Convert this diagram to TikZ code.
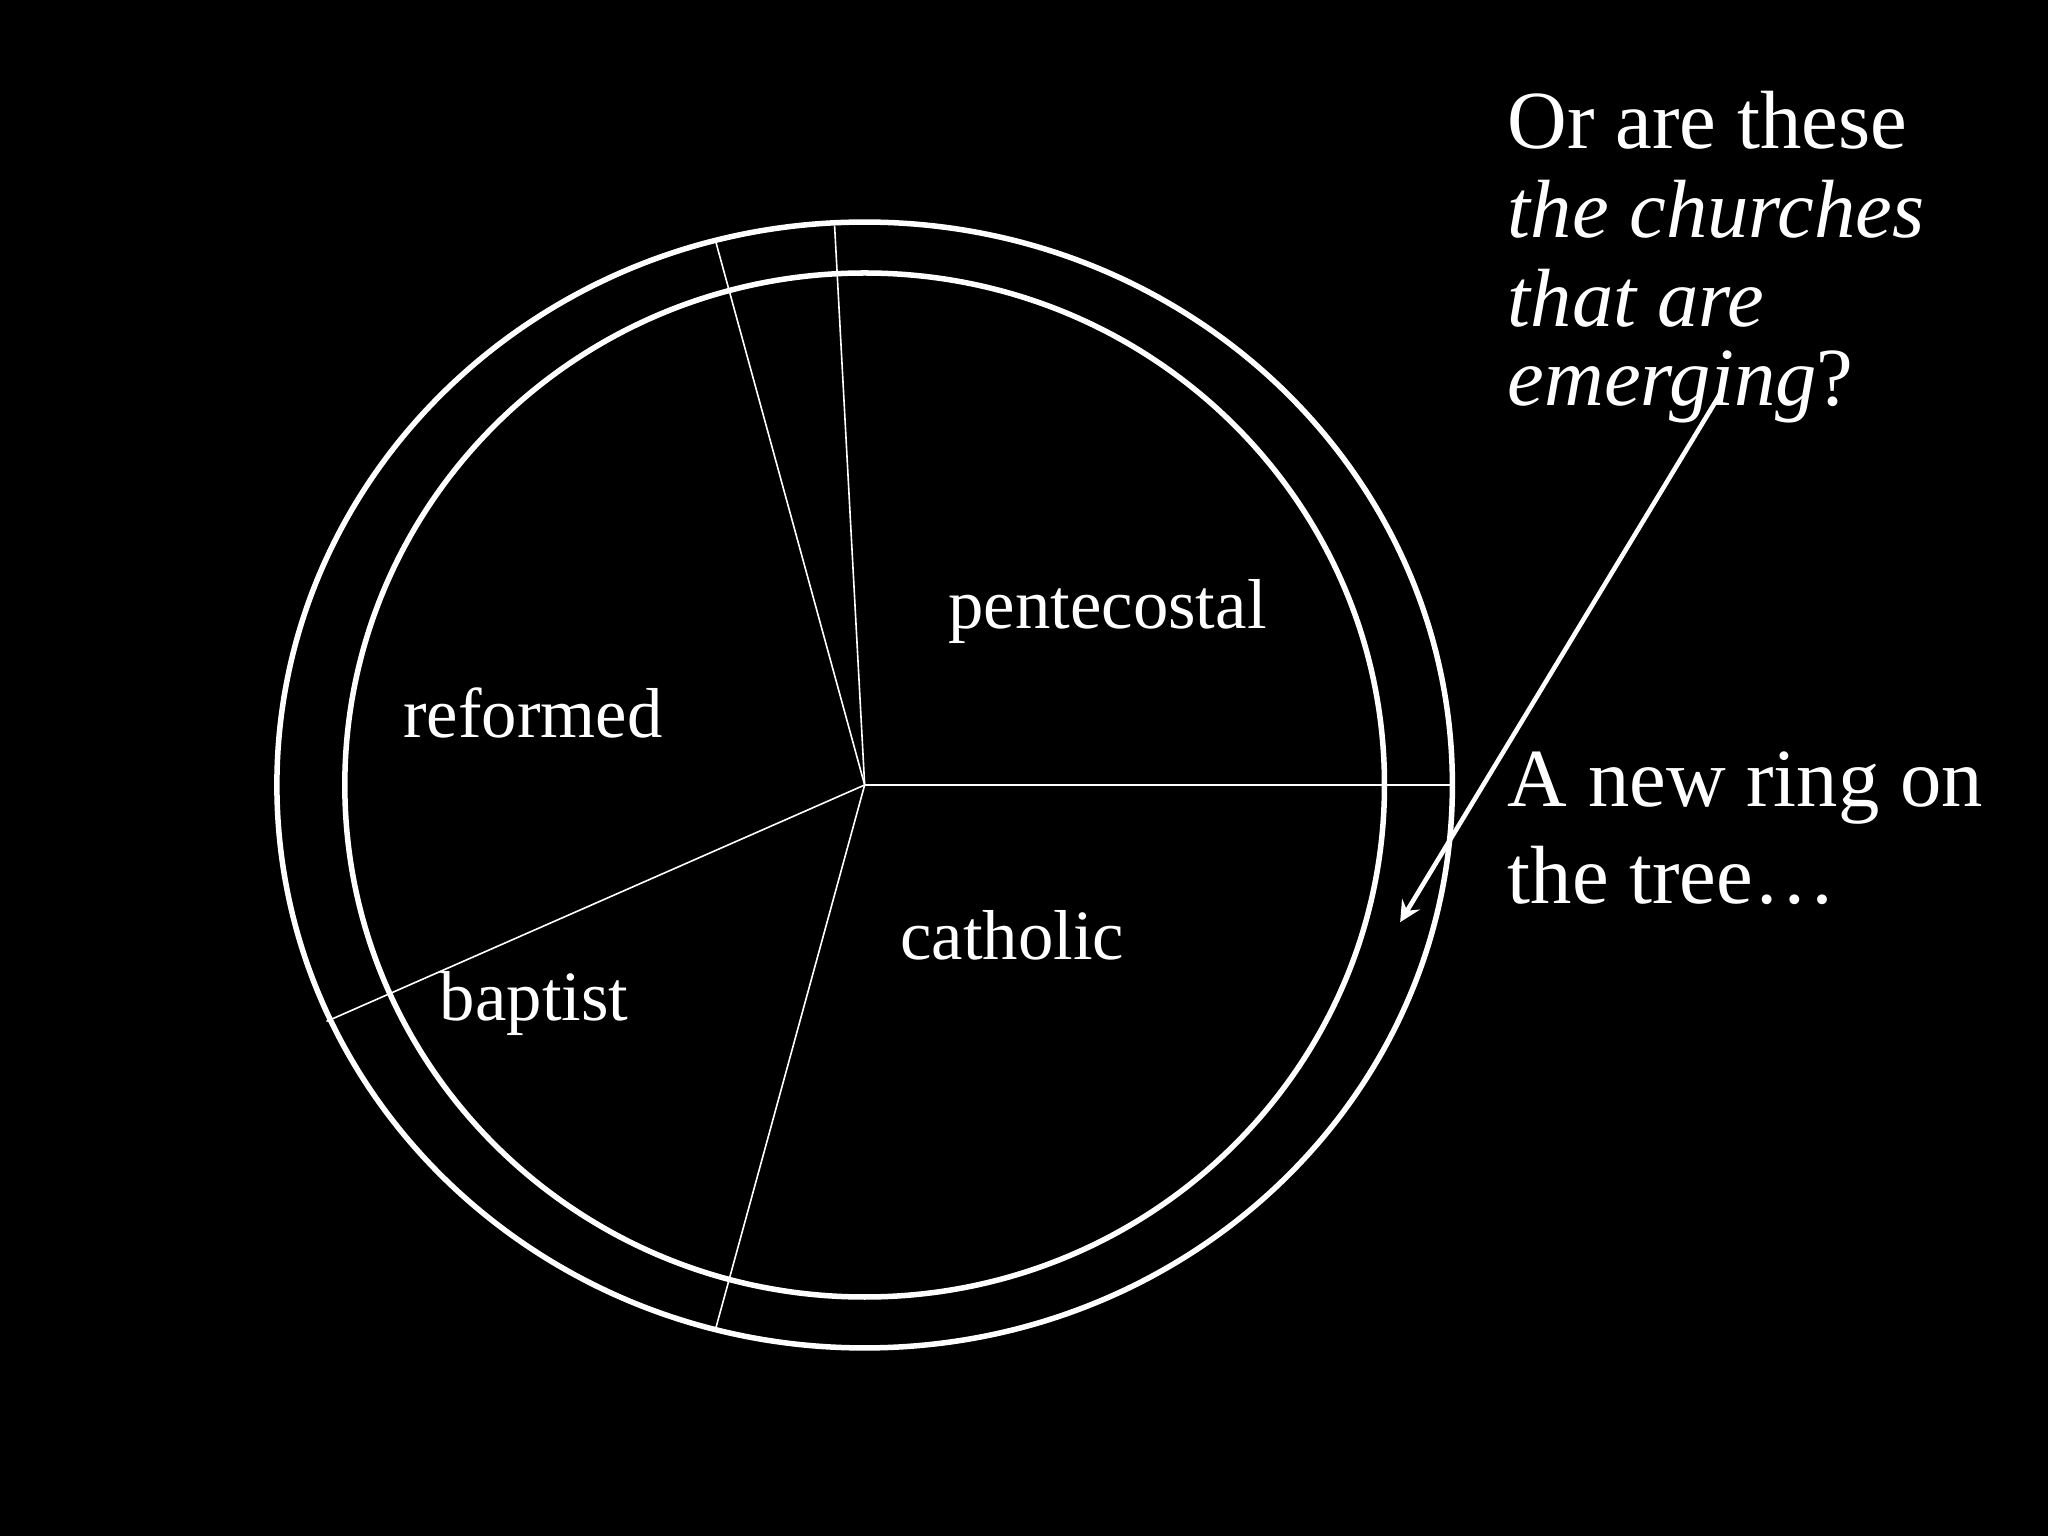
\documentclass[tikz,border=0pt]{standalone}
\usepackage{fontspec}
\setmainfont{Liberation Serif}
\begin{document}
\begin{tikzpicture}[x=0.1mm,y=-0.1mm,
  ring/.style={draw=white,line width=1.2pt},
  spoke/.style={draw=white,line width=0.35pt},
  lab/.style={text=white,font=\fontsize{15.4}{18}\selectfont},
  big/.style={text=white,font=\fontsize{18}{22}\selectfont,anchor=west}]
\fill[black] (0,0) rectangle (1568,1176);
\useasboundingbox (0,0) rectangle (1568,1176);
\coordinate (c) at (662,601);
\draw[ring] (c) ellipse [x radius=450,y radius=431];
\draw[ring] (c) ellipse [x radius=398,y radius=392];
\coordinate (e1) at (1110,601);
\coordinate (e2) at (639,173);
\coordinate (e3) at (548,185);
\coordinate (e4) at (250,782);
\coordinate (e5) at (548,1017);
\foreach \e in {e1,e2,e3,e4,e5} \draw[spoke] (c) -- (\e);
\node[lab] (pen) at (848,468) {pentecostal};
\node[lab] (ref) at (408,546) {reformed};
\node[lab] (cat) at (775,716) {catholic};
\node[lab] (bap) at (409,768) {baptist};
\node[big] (q1) at (1142,92) {Or are these};
\node[big] (q2) at (1142,160) {\itshape the churches};
\node[big] (q3) at (1142,228) {\itshape that are};
\node[big] (q4) at (1142,296) {\textit{emerging}?};
\node[big] (n1) at (1142,603) {A new ring on};
\node[big] (n2) at (1142,670) {the tree…};
\coordinate (as) at (1318,300);
\coordinate (ae) at (1072,706);
\draw[white,line width=1pt,-stealth] (as) -- (ae);
\end{tikzpicture}
\end{document}
